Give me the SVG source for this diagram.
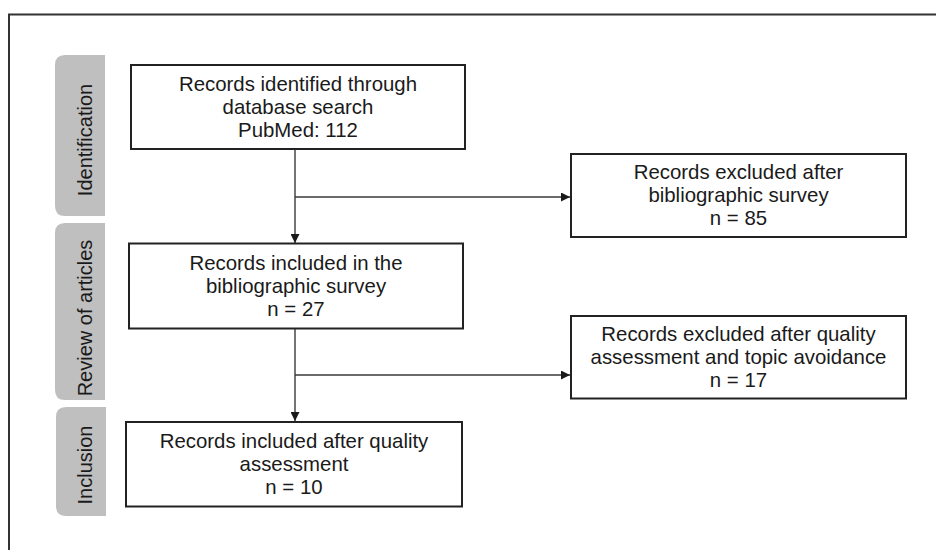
<svg xmlns="http://www.w3.org/2000/svg" width="936" height="550" viewBox="0 0 936 550">
  <style>
    .box { fill: #ffffff; stroke: #222222; stroke-width: 2; }
    .tab { fill: #bfbfbf; stroke: none; }
    .txt { font-family: "Liberation Sans", Arial, sans-serif; font-size: 20.4px; fill: #1a1a1a; text-anchor: middle; }
    .tabtxt { font-family: "Liberation Sans", Arial, sans-serif; font-size: 20px; fill: #1a1a1a; text-anchor: middle; }
    .conn { fill: none; stroke: #3a3a3a; stroke-width: 1.4; }
    .frame { fill: none; stroke: #333333; stroke-width: 2; }
  </style>
  <defs>
    <marker id="arrow" viewBox="0 0 10 10" refX="10" refY="5" markerWidth="9" markerHeight="9" markerUnits="userSpaceOnUse" orient="auto">
      <path d="M0,0 L10,5 L0,10 Z" fill="#1a1a1a"/>
    </marker>
  </defs>
  <rect x="0" y="0" width="936" height="550" fill="#ffffff"/>
  <path class="frame" d="M9,550 L9,14.5 L936,14.5"/>

  <g id="tab-identification">
    <path class="tab" d="M105,55 L65,55 Q55,55 55,65 L55,206 Q55,216 65,216 L105,216 Z"/>
    <text class="tabtxt" transform="translate(92,140) rotate(-90)">Identification</text>
  </g>
  <g id="tab-review">
    <path class="tab" d="M105,223 L65,223 Q55,223 55,233 L55,390 Q55,400 65,400 L105,400 Z"/>
    <text class="tabtxt" transform="translate(92,318) rotate(-90)">Review of articles</text>
  </g>
  <g id="tab-inclusion">
    <path class="tab" d="M106,407 L66,407 Q56,407 56,417 L56,506 Q56,516 66,516 L106,516 Z"/>
    <text class="tabtxt" transform="translate(92,465) rotate(-90)">Inclusion</text>
  </g>

  <g id="connectors">
    <line class="conn" x1="295" y1="149" x2="295" y2="243" marker-end="url(#arrow)"/>
    <line class="conn" x1="295" y1="197" x2="570" y2="197" marker-end="url(#arrow)"/>
    <line class="conn" x1="295" y1="328" x2="295" y2="421" marker-end="url(#arrow)"/>
    <line class="conn" x1="295" y1="375" x2="570" y2="375" marker-end="url(#arrow)"/>
  </g>

  <g id="node-identified">
    <rect class="box" x="131" y="65" width="334" height="84"/>
    <text class="txt" x="298" y="91">Records identified through</text>
    <text class="txt" x="298" y="114">database search</text>
    <text class="txt" x="298" y="137">PubMed: 112</text>
  </g>
  <g id="node-excluded-survey">
    <rect class="box" x="571" y="154" width="335" height="83"/>
    <text class="txt" x="738.5" y="179">Records excluded after</text>
    <text class="txt" x="738.5" y="202">bibliographic survey</text>
    <text class="txt" x="738.5" y="225">n = 85</text>
  </g>
  <g id="node-included-survey">
    <rect class="box" x="129" y="243.5" width="334" height="85"/>
    <text class="txt" x="296" y="270">Records included in the</text>
    <text class="txt" x="296" y="293">bibliographic survey</text>
    <text class="txt" x="296" y="316">n = 27</text>
  </g>
  <g id="node-excluded-quality">
    <rect class="box" x="571" y="316" width="335" height="82.5"/>
    <text class="txt" x="738.5" y="341">Records excluded after quality</text>
    <text class="txt" x="738.5" y="364">assessment and topic avoidance</text>
    <text class="txt" x="738.5" y="387">n = 17</text>
  </g>
  <g id="node-included-quality">
    <rect class="box" x="126" y="422" width="336" height="84.5"/>
    <text class="txt" x="294" y="448">Records included after quality</text>
    <text class="txt" x="294" y="471">assessment</text>
    <text class="txt" x="294" y="494">n = 10</text>
  </g>
</svg>
